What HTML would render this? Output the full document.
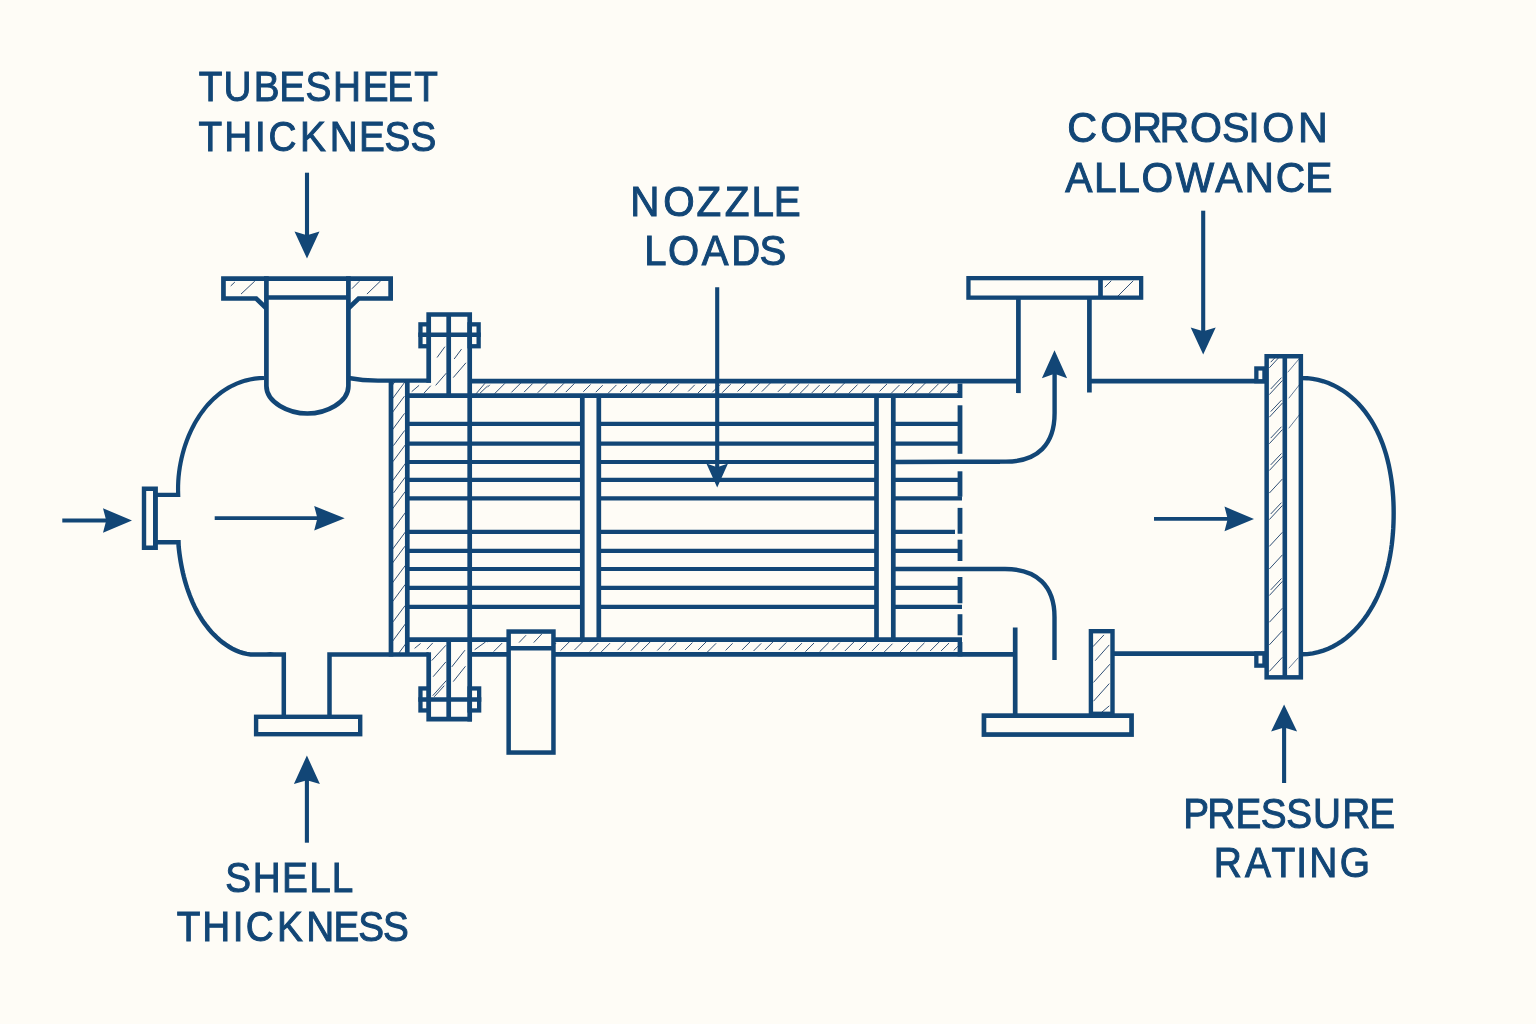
<!DOCTYPE html>
<html lang="en">
<head>
<meta charset="utf-8">
<style>
html,body{margin:0;padding:0;background:#FEFCF6;}
body{width:1536px;height:1024px;overflow:hidden;}
svg{display:block;}
.lbl{font-family:"Liberation Sans",sans-serif;font-size:43px;fill:#124676;stroke:#124676;stroke-width:1px;stroke-linejoin:miter;stroke-miterlimit:3;}
</style>
</head>
<body>
<svg width="1536" height="1024" viewBox="0 0 1536 1024">
<defs>
<clipPath id="c1"><rect x="391" y="381.2" width="16.3" height="273.1"/></clipPath>
<clipPath id="c2"><rect x="487.7" y="381.2" width="472.3" height="14.5"/></clipPath>
<clipPath id="c3"><rect x="487.7" y="639.6" width="472.3" height="14.7"/></clipPath>
<clipPath id="c4"><rect x="407.3" y="336" width="80.4" height="59.7"/></clipPath>
<clipPath id="c5"><rect x="407.3" y="639.6" width="80.4" height="59.4"/></clipPath>
<clipPath id="c6"><rect x="223" y="278" width="43" height="21"/></clipPath>
<clipPath id="c7"><rect x="349" y="278" width="42" height="21"/></clipPath>
<clipPath id="c8"><rect x="509" y="632" width="44" height="14"/></clipPath>
<clipPath id="c9"><rect x="1102" y="278" width="39" height="20"/></clipPath>
<clipPath id="c10"><rect x="1091" y="631" width="22" height="83"/></clipPath>
<clipPath id="c11"><rect x="1268" y="358" width="15" height="318"/></clipPath>
<clipPath id="c12"><rect x="1286" y="358" width="15" height="318"/></clipPath>
</defs>
<rect x="0" y="0" width="1536" height="1024" fill="#FEFCF6"/>
<g stroke="#124676" fill="none" stroke-linecap="butt" stroke-linejoin="miter">
<g clip-path="url(#c1)" stroke="#0E325F" stroke-width="0.9" stroke-opacity="0.95" stroke-linecap="round"><line x1="391.49" y1="386.37" x2="406.16" y2="366.56"/><line x1="392.75" y1="398.39" x2="405.23" y2="381.54"/><line x1="392.65" y1="412.1" x2="404.16" y2="396.56"/><line x1="391.23" y1="431.36" x2="404.34" y2="413.67"/><line x1="393.7" y1="445.28" x2="404.44" y2="430.77"/><line x1="393.05" y1="461.39" x2="407.13" y2="442.37"/><line x1="392.29" y1="481.17" x2="407.22" y2="461.02"/><line x1="393.8" y1="492.61" x2="404.98" y2="477.51"/><line x1="391.38" y1="510.31" x2="405.05" y2="491.87"/><line x1="391.59" y1="531.19" x2="405.94" y2="511.82"/><line x1="392.21" y1="549.74" x2="405.83" y2="531.36"/><line x1="391.19" y1="564.74" x2="404.71" y2="546.49"/><line x1="392.39" y1="582.93" x2="405.06" y2="565.82"/><line x1="392.48" y1="601.67" x2="405.02" y2="584.74"/><line x1="393.28" y1="621.53" x2="404.84" y2="605.93"/><line x1="392.71" y1="641.04" x2="406.89" y2="621.9"/><line x1="391.94" y1="662.38" x2="407.24" y2="641.73"/></g>
<g clip-path="url(#c2)" stroke="#0E325F" stroke-width="0.9" stroke-opacity="0.95" stroke-linecap="round"><line x1="482.97" y1="391.66" x2="489.52" y2="385.11"/><line x1="494.82" y1="393.43" x2="504.64" y2="383.61"/><line x1="511.69" y1="392.11" x2="520.79" y2="383.01"/><line x1="524.39" y1="391.81" x2="532.37" y2="383.83"/><line x1="538.06" y1="392.4" x2="547.34" y2="383.11"/><line x1="554.91" y1="392.36" x2="563.65" y2="383.62"/><line x1="566.1" y1="391.8" x2="574.22" y2="383.67"/><line x1="583.55" y1="391.5" x2="590.32" y2="384.72"/><line x1="596.07" y1="391.88" x2="602.46" y2="385.48"/><line x1="608.27" y1="393.11" x2="616.17" y2="385.21"/><line x1="620.36" y1="391.63" x2="626.82" y2="385.17"/><line x1="631.36" y1="392.56" x2="640.9" y2="383.02"/><line x1="642.27" y1="392.42" x2="650.73" y2="383.96"/><line x1="659.57" y1="391.51" x2="668.03" y2="383.04"/><line x1="670.72" y1="392.5" x2="678.71" y2="384.51"/><line x1="688.45" y1="391.16" x2="694.5" y2="385.11"/><line x1="698.09" y1="392.95" x2="706.17" y2="384.87"/><line x1="712.57" y1="392.07" x2="719.85" y2="384.79"/><line x1="722.38" y1="392.49" x2="730.39" y2="384.48"/><line x1="737.86" y1="391.18" x2="745.49" y2="383.55"/><line x1="750.84" y1="392" x2="759.25" y2="383.59"/><line x1="762.11" y1="391.31" x2="770.13" y2="383.29"/><line x1="778.18" y1="391.56" x2="785.33" y2="384.41"/><line x1="789.46" y1="393.27" x2="799.02" y2="383.71"/><line x1="800.01" y1="393.36" x2="808.43" y2="384.94"/><line x1="812.02" y1="392.69" x2="819.31" y2="385.4"/><line x1="821.76" y1="393.15" x2="829.65" y2="385.26"/><line x1="834.19" y1="393.46" x2="844.64" y2="383.01"/><line x1="848.99" y1="393.16" x2="857.33" y2="384.82"/><line x1="862.16" y1="392.63" x2="869.59" y2="385.19"/><line x1="879.85" y1="391.08" x2="886.73" y2="384.2"/><line x1="891.2" y1="393.31" x2="899.26" y2="385.25"/><line x1="904.24" y1="392.87" x2="913.96" y2="383.15"/><line x1="914.97" y1="393.47" x2="925.65" y2="382.79"/><line x1="929.18" y1="393.16" x2="938.36" y2="383.97"/><line x1="940.51" y1="392.22" x2="950.02" y2="382.71"/><line x1="957.16" y1="391.81" x2="964.18" y2="384.79"/></g>
<g clip-path="url(#c3)" stroke="#0E325F" stroke-width="0.9" stroke-opacity="0.95" stroke-linecap="round"><line x1="479.42" y1="650.17" x2="487.14" y2="642.44"/><line x1="493.97" y1="651.27" x2="501.89" y2="643.35"/><line x1="511.49" y1="649.63" x2="519.62" y2="641.5"/><line x1="526.92" y1="650.05" x2="535.13" y2="641.83"/><line x1="537.95" y1="650.8" x2="545.79" y2="642.96"/><line x1="547.13" y1="652.03" x2="555.97" y2="643.19"/><line x1="560.8" y1="650.36" x2="569.97" y2="641.2"/><line x1="574.75" y1="649.75" x2="583.39" y2="641.11"/><line x1="590.2" y1="651.18" x2="598.02" y2="643.36"/><line x1="601.57" y1="651.6" x2="609.76" y2="643.41"/><line x1="617.9" y1="649.85" x2="626.2" y2="641.54"/><line x1="630.83" y1="650.46" x2="639.64" y2="641.66"/><line x1="641.65" y1="650.44" x2="650.76" y2="641.34"/><line x1="657.55" y1="650.22" x2="665.16" y2="642.6"/><line x1="669.09" y1="650.12" x2="676.18" y2="643.03"/><line x1="685.36" y1="649.67" x2="692.18" y2="642.85"/><line x1="698.3" y1="649.73" x2="706.15" y2="641.88"/><line x1="707.64" y1="651.78" x2="715.86" y2="643.57"/><line x1="725.88" y1="650.08" x2="732.38" y2="643.58"/><line x1="742.3" y1="649.65" x2="749.86" y2="642.08"/><line x1="753.87" y1="650.72" x2="760.97" y2="643.62"/><line x1="765.23" y1="649.67" x2="772.79" y2="642.1"/><line x1="779.02" y1="649.76" x2="786.05" y2="642.73"/><line x1="795.05" y1="650.03" x2="801.69" y2="643.39"/><line x1="805.68" y1="651.36" x2="813.74" y2="643.3"/><line x1="819.9" y1="651.45" x2="828.57" y2="642.78"/><line x1="832.65" y1="649.82" x2="839.5" y2="642.97"/><line x1="845.24" y1="650.64" x2="854.52" y2="641.35"/><line x1="859.22" y1="649.8" x2="866.48" y2="642.54"/><line x1="872.16" y1="650.79" x2="878.99" y2="643.96"/><line x1="884.59" y1="651.64" x2="892.22" y2="644"/><line x1="900.35" y1="651.66" x2="909.4" y2="642.62"/><line x1="916.59" y1="650.7" x2="924.24" y2="643.05"/><line x1="930.42" y1="650.71" x2="939.42" y2="641.7"/><line x1="941.37" y1="650.69" x2="948.79" y2="643.28"/><line x1="954.04" y1="650.17" x2="961.69" y2="642.52"/></g>
<line x1="407.3" y1="423.8" x2="962" y2="423.8" stroke-width="4.2"/>
<line x1="407.3" y1="443.6" x2="962" y2="443.6" stroke-width="4.2"/>
<line x1="407.3" y1="462" x2="1000" y2="462" stroke-width="4.2"/>
<line x1="407.3" y1="479.9" x2="962" y2="479.9" stroke-width="4.2"/>
<line x1="407.3" y1="498.3" x2="962" y2="498.3" stroke-width="4.2"/>
<line x1="407.3" y1="531.8" x2="955" y2="531.8" stroke-width="4.2"/>
<line x1="407.3" y1="550.8" x2="962" y2="550.8" stroke-width="4.2"/>
<line x1="407.3" y1="569" x2="1000" y2="569" stroke-width="4.2"/>
<line x1="407.3" y1="587.8" x2="962" y2="587.8" stroke-width="4.2"/>
<line x1="407.3" y1="606.8" x2="962" y2="606.8" stroke-width="4.2"/>
<rect x="582.3" y="395.7" width="16.5" height="243.9" fill="#FEFCF6" stroke="none"/>
<line x1="582.3" y1="395.7" x2="582.3" y2="639.6" stroke-width="4.7"/>
<line x1="598.8" y1="395.7" x2="598.8" y2="639.6" stroke-width="4.7"/>
<rect x="876.5" y="395.7" width="16.8" height="243.9" fill="#FEFCF6" stroke="none"/>
<line x1="876.5" y1="395.7" x2="876.5" y2="639.6" stroke-width="4.7"/>
<line x1="893.3" y1="395.7" x2="893.3" y2="639.6" stroke-width="4.7"/>
<line x1="407.3" y1="395.7" x2="962" y2="395.7" stroke-width="4.7"/>
<line x1="407.3" y1="639.6" x2="962" y2="639.6" stroke-width="4.7"/>
<line x1="469.7" y1="381.2" x2="1018.4" y2="381.2" stroke-width="4.7"/>
<line x1="469.7" y1="654.3" x2="1015.2" y2="654.3" stroke-width="4.7"/>
<line x1="1089.4" y1="381.2" x2="1266" y2="381.2" stroke-width="4.7"/>
<line x1="1114" y1="653.7" x2="1266" y2="653.7" stroke-width="4.7"/>
<line x1="960" y1="383.5" x2="960" y2="398" stroke-width="4.8"/>
<line x1="960" y1="405.3" x2="960" y2="453.8" stroke-width="4.8"/>
<line x1="960" y1="471.3" x2="960" y2="496.7" stroke-width="4.8"/>
<line x1="960" y1="507.9" x2="960" y2="533.8" stroke-width="4.8"/>
<line x1="960" y1="539.7" x2="960" y2="561" stroke-width="4.8"/>
<line x1="960" y1="577" x2="960" y2="603.3" stroke-width="4.8"/>
<line x1="960" y1="614.2" x2="960" y2="635.3" stroke-width="4.8"/>
<line x1="960" y1="642" x2="960" y2="656.4" stroke-width="4.8"/>
<line x1="391" y1="379.1" x2="391" y2="656.4" stroke-width="4.7"/>
<line x1="407.3" y1="381.2" x2="407.3" y2="654.3" stroke-width="4.7"/>
<g clip-path="url(#c4)" stroke="#0E325F" stroke-width="0.9" stroke-opacity="0.95" stroke-linecap="round"><line x1="437.3" y1="357.2" x2="444.7" y2="347"/><line x1="435.9" y1="385.1" x2="446.1" y2="373.4"/><line x1="454.4" y1="358.7" x2="461.3" y2="349.4"/><line x1="453.5" y1="377.3" x2="465.7" y2="363.1"/><line x1="412" y1="391.4" x2="418.8" y2="385.6"/><line x1="424.2" y1="392.9" x2="430.5" y2="386"/><line x1="476.4" y1="393.4" x2="484.7" y2="383.6"/><line x1="480.3" y1="392.9" x2="487.6" y2="386"/></g>
<path d="M428.7,382.8 V314.5 H469.7 V721.5" stroke-width="4.7" fill="none"/>
<line x1="448.7" y1="314.3" x2="448.7" y2="395.7" stroke-width="4.7"/>
<rect x="420.45" y="324.35" width="8.4" height="21.9" stroke-width="4.3" fill="none"/>
<rect x="469.55" y="324.35" width="9.1" height="21.9" stroke-width="4.3" fill="none"/>
<line x1="418.3" y1="334.8" x2="480.8" y2="334.8" stroke-width="4.5"/>
<g clip-path="url(#c5)" stroke="#0E325F" stroke-width="0.9" stroke-opacity="0.95" stroke-linecap="round"><line x1="432" y1="660.3" x2="445.6" y2="645.6"/><line x1="433.4" y1="676.4" x2="445.6" y2="662.2"/><line x1="433" y1="695.4" x2="446.1" y2="680.8"/><line x1="434.5" y1="696.5" x2="444" y2="686"/><line x1="452" y1="666.6" x2="464.7" y2="650.5"/><line x1="453.5" y1="681.3" x2="465.2" y2="666.6"/><line x1="414.9" y1="648.1" x2="420.3" y2="643.7"/><line x1="427.1" y1="649" x2="432.5" y2="643.2"/><line x1="475" y1="649.5" x2="485.2" y2="642.2"/></g>
<path d="M428.7,652.2 V719.2 H472" stroke-width="4.7" fill="none"/>
<line x1="448.7" y1="639.6" x2="448.7" y2="719.2" stroke-width="4.7"/>
<rect x="420.45" y="688.45" width="8.4" height="22" stroke-width="4.3" fill="none"/>
<rect x="469.55" y="688.45" width="9.6" height="22" stroke-width="4.3" fill="none"/>
<line x1="418.3" y1="699.5" x2="481.3" y2="699.5" stroke-width="4.5"/>
<path d="M264,378 L259.47,378.16 L254.62,378.69 L249.91,379.52 L245.34,380.62 L240.92,382 L236.65,383.64 L232.53,385.52 L228.55,387.65 L224.73,390 L221.05,392.56 L217.52,395.34 L214.13,398.3 L210.9,401.45 L207.82,404.76 L204.88,408.24 L202.1,411.87 L199.47,415.64 L196.99,419.53 L194.65,423.54 L192.48,427.65 L190.45,431.86 L188.57,436.15 L186.85,440.52 L185.28,444.94 L183.87,449.42 L182.6,453.93 L181.49,458.47 L180.54,463.03 L179.74,467.6 L179.09,472.16 L178.6,476.7 L178.27,481.21 L178.09,485.69 L178.06,490.12 L178.2,494.8 H157" stroke-width="4.2" fill="none"/>
<path d="M157,542.3 H178.5 L178.63,546.27 L179.02,549.98 L179.48,553.73 L180.02,557.5 L180.63,561.29 L181.31,565.1 L182.07,568.92 L182.9,572.73 L183.82,576.54 L184.83,580.34 L185.92,584.13 L187.09,587.89 L188.36,591.62 L189.72,595.32 L191.17,598.98 L192.73,602.59 L194.37,606.14 L196.12,609.64 L197.98,613.07 L199.94,616.42 L202,619.7 L204.18,622.9 L206.46,626 L208.86,629.01 L211.38,631.92 L214.01,634.71 L216.77,637.4 L219.64,639.96 L222.64,642.39 L225.76,644.66 L228.99,646.76 L232.33,648.67 L235.78,650.35 L239.33,651.8 L242.97,652.98 L246.71,653.88 L250.53,654.4 L254.43,654.4 L258.38,654.4 L262.34,654.4 L266.3,654.4 L270.21,654.27 L274,654.4 H283.8 V716 M329.5,716 V654.4 H428.7" stroke-width="4.5" fill="none"/>
<path d="M348.6,378.0 C357,379.6 366,380.6 378,380.6 H431" stroke-width="4.4" fill="none"/>
<path d="M141.8,486.6 H157.9 V549.9 H141.8 Z M146.2,491 V545.6 H153 V491 Z" fill="#124676" fill-rule="evenodd" stroke="none"/>
<g clip-path="url(#c6)" stroke="#0E325F" stroke-width="0.9" stroke-opacity="0.95" stroke-linecap="round"><line x1="231" y1="285.7" x2="234.6" y2="282.3"/><line x1="241.3" y1="293.8" x2="254.5" y2="281.4"/></g>
<g clip-path="url(#c7)" stroke="#0E325F" stroke-width="0.9" stroke-opacity="0.95" stroke-linecap="round"><line x1="352.2" y1="288.4" x2="359" y2="281.6"/><line x1="367.2" y1="293.8" x2="380.5" y2="281"/></g>
<path d="M266.3,308.2 L256.2,298.5 H223.45 V278.55 H390.65 V298.5 H358.6 L348.5,308.2" stroke-width="4.7" fill="none"/>
<path d="M266.4,276.2 V386 C266.4,402.5 288.9,413.5 307.4,413.5 C326,413.5 348.4,402.5 348.4,386 V276.2" stroke-width="4.7" fill="none"/>
<line x1="266.3" y1="297.5" x2="348.5" y2="297.5" stroke-width="4.6"/>
<rect x="256.1" y="716.8" width="104.1" height="17.4" stroke-width="4.4" fill="#FEFCF6"/>
<rect x="508.65" y="631.55" width="44.8" height="121" stroke-width="4.5" fill="#FEFCF6"/>
<g clip-path="url(#c8)" stroke="#0E325F" stroke-width="0.9" stroke-opacity="0.95" stroke-linecap="round"><line x1="519.3" y1="642.3" x2="525.8" y2="635.5"/><line x1="534" y1="642.3" x2="541.5" y2="634.3"/></g>
<line x1="508" y1="648.3" x2="554" y2="648.3" stroke-width="4.6"/>
<rect x="968.45" y="278.15" width="172.7" height="19.5" stroke-width="4.3" fill="#FEFCF6"/>
<line x1="1100.5" y1="278" x2="1100.5" y2="298" stroke-width="4.7"/>
<g clip-path="url(#c9)" stroke="#0E325F" stroke-width="0.9" stroke-opacity="0.95" stroke-linecap="round"><line x1="1105" y1="287" x2="1111" y2="281"/><line x1="1118" y1="296" x2="1133" y2="281"/></g>
<line x1="1018.4" y1="298" x2="1018.4" y2="393.1" stroke-width="4.7"/>
<line x1="1089.4" y1="298" x2="1089.4" y2="392.5" stroke-width="4.7"/>
<line x1="1015.2" y1="627.5" x2="1015.2" y2="715" stroke-width="4.7"/>
<rect x="1090.9" y="631.2" width="21.6" height="82.6" stroke-width="4.4" fill="#FEFCF6"/>
<g clip-path="url(#c10)" stroke="#0E325F" stroke-width="0.9" stroke-opacity="0.95" stroke-linecap="round"><line x1="1093.2" y1="646.4" x2="1103.7" y2="635.2"/><line x1="1095.5" y1="660.4" x2="1109" y2="645.2"/><line x1="1093.8" y1="682.1" x2="1109.6" y2="664.5"/><line x1="1093.8" y1="700.9" x2="1109" y2="683.9"/><line x1="1102" y1="712" x2="1109" y2="706.1"/></g>
<rect x="983.95" y="715.65" width="147.6" height="18.9" stroke-width="4.7" fill="#FEFCF6"/>
<path d="M895,462 C930,462 970,461.6 1006,461.6 C1037.6,461.6 1054.6,444.6 1054.6,413 V372" stroke-width="4.4" fill="none"/>
<polygon points="1054.5,350.3 1067.1,378.3 1054.5,373.8 1041.9,378.3" fill="#124676" stroke="none"/>
<path d="M895,569 H1005 C1037,569 1054.5,586 1054.5,617 V660" stroke-width="4.4" fill="none"/>
<rect x="1266.65" y="356.25" width="34.2" height="321.1" stroke-width="4.5" fill="#FEFCF6"/>
<g clip-path="url(#c11)" stroke="#0E325F" stroke-width="0.9" stroke-opacity="0.95" stroke-linecap="round"><line x1="1269.6" y1="367.5" x2="1282.2" y2="353.9"/><line x1="1271" y1="361.9" x2="1281.2" y2="351.1"/><line x1="1269.6" y1="394.3" x2="1282.2" y2="380.7"/><line x1="1271" y1="388.7" x2="1281.2" y2="377.9"/><line x1="1269.6" y1="416.9" x2="1282.2" y2="403.3"/><line x1="1271" y1="411.3" x2="1281.2" y2="400.5"/><line x1="1269.6" y1="443.4" x2="1282.2" y2="429.8"/><line x1="1271" y1="437.8" x2="1281.2" y2="427"/><line x1="1269.6" y1="470.2" x2="1282.2" y2="456.6"/><line x1="1271" y1="464.6" x2="1281.2" y2="453.8"/><line x1="1269.6" y1="492.8" x2="1282.2" y2="479.2"/><line x1="1269.6" y1="519.3" x2="1282.2" y2="505.7"/><line x1="1271" y1="513.7" x2="1281.2" y2="502.9"/><line x1="1269.6" y1="546.1" x2="1282.2" y2="532.5"/><line x1="1269.6" y1="568.7" x2="1282.2" y2="555.1"/><line x1="1269.6" y1="595.2" x2="1282.2" y2="581.6"/><line x1="1271" y1="589.6" x2="1281.2" y2="578.8"/><line x1="1269.6" y1="622" x2="1282.2" y2="608.4"/><line x1="1269.6" y1="644.6" x2="1282.2" y2="631"/><line x1="1269.6" y1="671.1" x2="1282.2" y2="657.5"/></g>
<g clip-path="url(#c12)" stroke="#0E325F" stroke-width="0.9" stroke-opacity="0.7" stroke-linecap="round"><line x1="1288" y1="372" x2="1299" y2="359"/><line x1="1289" y1="398" x2="1300" y2="384"/><line x1="1289" y1="428" x2="1300" y2="414"/><line x1="1289" y1="668" x2="1298" y2="658"/></g>
<line x1="1284.8" y1="356" x2="1284.8" y2="677" stroke-width="4.6"/>
<rect x="1256.35" y="368.45" width="8.1" height="12.8" stroke-width="4.3" fill="#FEFCF6"/>
<rect x="1256.35" y="653.55" width="8.1" height="12.1" stroke-width="4.3" fill="#FEFCF6"/>
<path d="M1302,378.1 L1307.25,378.18 L1312.8,378.82 L1318.17,379.86 L1323.37,381.27 L1328.4,383.04 L1333.24,385.14 L1337.9,387.57 L1342.38,390.29 L1346.68,393.3 L1350.78,396.56 L1354.7,400.07 L1358.42,403.81 L1361.94,407.75 L1365.27,411.88 L1368.39,416.19 L1371.31,420.64 L1374.03,425.22 L1376.54,429.92 L1378.84,434.71 L1380.94,439.6 L1382.86,444.57 L1384.59,449.61 L1386.15,454.71 L1387.53,459.87 L1388.76,465.07 L1389.83,470.3 L1390.76,475.56 L1391.55,480.83 L1392.21,486.12 L1392.74,491.41 L1393.15,496.71 L1393.44,502.02 L1393.61,507.34 L1393.67,512.66 L1393.63,518 L1393.48,523.34 L1393.23,528.69 L1392.86,534.04 L1392.37,539.37 L1391.77,544.7 L1391.03,550 L1390.16,555.28 L1389.15,560.52 L1388,565.73 L1386.7,570.89 L1385.24,576.01 L1383.63,581.07 L1381.85,586.07 L1379.9,591 L1377.77,595.86 L1375.46,600.64 L1372.97,605.34 L1370.29,609.94 L1367.41,614.44 L1364.34,618.81 L1361.08,623.02 L1357.64,627.06 L1354,630.91 L1350.17,634.54 L1346.15,637.94 L1341.95,641.08 L1337.56,643.95 L1332.98,646.51 L1328.22,648.75 L1323.27,650.66 L1318.13,652.2 L1312.81,653.36 L1307.31,654.11 L1302,654.2" stroke-width="4.4" fill="none"/>
<line x1="307" y1="172.7" x2="307" y2="236.3" stroke-width="4.1"/>
<polygon points="307,258.5 294.5,231.5 307,235.3 319.5,231.5" fill="#124676" stroke="none"/>
<line x1="717.2" y1="287.3" x2="717.2" y2="468.3" stroke-width="4.1"/>
<polygon points="717.2,487.5 706.4,463.5 717.2,467.3 728,463.5" fill="#124676" stroke="none"/>
<line x1="1203.2" y1="210.7" x2="1203.2" y2="332.2" stroke-width="4.1"/>
<polygon points="1203.2,354.4 1190.7,327.4 1203.2,331.2 1215.7,327.4" fill="#124676" stroke="none"/>
<line x1="1284.1" y1="783" x2="1284.1" y2="726.6" stroke-width="4.1"/>
<polygon points="1284.1,704.4 1297.1,731.4 1284.1,727.6 1271.1,731.4" fill="#124676" stroke="none"/>
<line x1="306.9" y1="842.7" x2="306.9" y2="779.2" stroke-width="4.1"/>
<polygon points="306.9,755.5 319.9,784 306.9,780.2 293.9,784" fill="#124676" stroke="none"/>
<line x1="62.3" y1="520.5" x2="107.2" y2="520.5" stroke-width="3.8"/>
<polygon points="132,520.5 103,532.7 106.2,520.5 103,508.3" fill="#124676" stroke="none"/>
<line x1="214.7" y1="518.2" x2="318.4" y2="518.2" stroke-width="3.8"/>
<polygon points="344.7,518.2 314.2,530.4 317.4,518.2 314.2,506" fill="#124676" stroke="none"/>
<line x1="1154" y1="518.9" x2="1228.7" y2="518.9" stroke-width="3.8"/>
<polygon points="1254,518.9 1224.5,531.2 1227.7,518.9 1224.5,506.6" fill="#124676" stroke="none"/>
</g>
<g class="lbl" opacity="0.999">
<text transform="matrix(0.9000 0 0 1 0 0)" x="220.91 248.32 282.02 310.33 339.42 370.06 403.11 430.42 460.26" y="101.1">TUBESHEET</text>
<text transform="matrix(0.9000 0 0 1 0 0)" x="220.47 249.26 283.27 298.35 333.29 366.3 398.97 427.13 456.12" y="150.7">THICKNESS</text>
<text transform="matrix(0.9400 0 0 1 0 0)" x="670.47 705.55 740.86 771 799.5 823.04" y="215.7">NOZZLE</text>
<text transform="matrix(0.9327 0 0 1 0 0)" x="690.63 716.23 752.46 784.13 814.39" y="265.5">LOADS</text>
<text transform="matrix(0.9575 0 0 1 0 0)" x="1114.52 1149.11 1182.56 1210.93 1242.87 1276.19 1303.59 1318.17 1355.71" y="142.4">CORROSION</text>
<text transform="matrix(0.9470 0 0 1 0 0)" x="1124.92 1155.13 1179.67 1205.32 1241.46 1283.33 1314.09 1347.22 1378.35" y="192">ALLOWANCE</text>
<text transform="matrix(0.9000 0 0 1 0 0)" x="250.22 280.77 313.35 343.67 368.67" y="892.2">SHELL</text>
<text transform="matrix(0.9000 0 0 1 0 0)" x="196.33 224.66 258.58 273.1 307.76 340.22 370.69 398.13 425.44" y="941.2">THICKNESS</text>
<text transform="matrix(0.9000 0 0 1 0 0)" x="1314.6 1341.52 1372.72 1400.89 1429.13 1458.95 1491.52 1521.34" y="828">PRESSURE</text>
<text transform="matrix(0.9050 0 0 1 0 0)" x="1341.11 1375.56 1404.87 1432.46 1446.65 1480.52" y="877.5">RATING</text>
</g>
</svg>
</body>
</html>
